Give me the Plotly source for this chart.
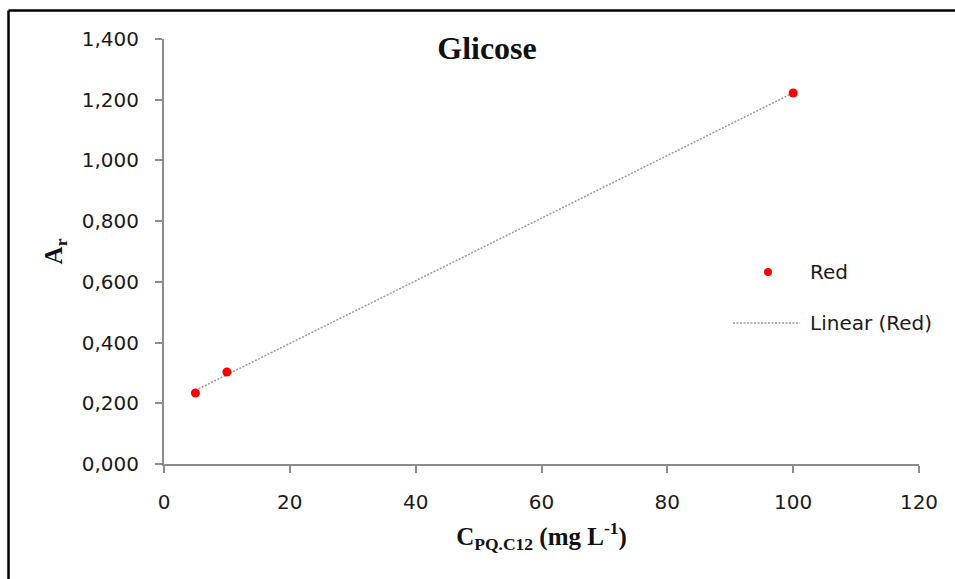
import numpy as np
import plotly.graph_objects as go

# ---- data ----
conc = [5, 10, 100]                 # C_PQ.C12 (mg L-1)
absorb = [0.234, 0.303, 1.222]      # A_r (Red)
series_name = "Red"
trend_name = "Linear (Red)"
x_ticks = [0, 20, 40, 60, 80, 100, 120]
y_ticks = [0.0, 0.2, 0.4, 0.6, 0.8, 1.0, 1.2, 1.4]

# linear trendline fitted to the data
slope, intercept = np.polyfit(conc, absorb, 1)
trend_x = [min(conc), max(conc)]
trend_y = [slope * v + intercept for v in trend_x]

W, H = 955, 579
L, R, T, B = 164, 36, 39, 115
pw, ph = W - L - R, H - T - B

def px(xp):
    return (xp - L) / pw

def py(yp):
    return (H - B - yp) / ph

fig = go.Figure()
fig.add_trace(go.Scatter(
    x=trend_x, y=trend_y, mode="lines", name=trend_name,
    line=dict(color="#9a9a9a", width=1.5, dash="2px,1.5px"),
    showlegend=False, hoverinfo="skip"))
fig.add_trace(go.Scatter(
    x=conc, y=absorb, mode="markers", name=series_name,
    marker=dict(color="#ff0000", size=9),
    showlegend=False))

tick_font = dict(family="DejaVu Sans", size=20, color="#1a1a1a")
serif_b = dict(family="Liberation Serif", size=25, color="#111111")

fig.update_layout(
    width=W, height=H,
    margin=dict(l=L, r=R, t=T, b=B, pad=0),
    paper_bgcolor="white", plot_bgcolor="white",
    separators=",.",
    title=dict(text="<b>Glicose</b>", x=px(487), xref="paper", xanchor="center",
               y=1 - 48 / H, yref="container", yanchor="middle",
               font=dict(family="Liberation Serif", size=32, color="#111111")),
    xaxis=dict(range=[0, 120], tickvals=x_ticks, showgrid=False, zeroline=False,
               showline=True, linecolor="#8c8c8c", linewidth=2,
               ticks="outside", ticklen=7, tickwidth=2, tickcolor="#8c8c8c",
               tickfont=tick_font, ticklabelstandoff=12,
               title=dict(text="<b>C<sub>PQ.C12</sub> (mg L<sup>-1</sup>)</b>",
                          font=serif_b, standoff=14)),
    yaxis=dict(range=[0, 1.4], tickvals=y_ticks, tickformat=".3f",
               showgrid=False, zeroline=False,
               showline=True, linecolor="#8c8c8c", linewidth=2,
               ticks="outside", ticklen=7, tickwidth=2, tickcolor="#8c8c8c",
               tickfont=tick_font, ticklabelstandoff=12,
               title=dict(text="<b>A<sub>r</sub></b>", font=serif_b, standoff=12)),
    showlegend=False,
)

# outer frame (left and top edges visible in the cropped reference)
fig.add_shape(type="line", xref="paper", yref="paper",
              x0=px(8.5), x1=px(W + 20), y0=py(10.5), y1=py(10.5),
              line=dict(color="black", width=2.5))
fig.add_shape(type="line", xref="paper", yref="paper",
              x0=px(8.5), x1=px(8.5), y0=py(10.5), y1=py(H + 20),
              line=dict(color="black", width=2.5))

# legend
fig.add_shape(type="circle", xref="paper", yref="paper",
              xsizemode="pixel", ysizemode="pixel",
              xanchor=px(768), yanchor=py(272), x0=-4, x1=4, y0=-4, y1=4,
              fillcolor="#ff0000", line=dict(width=0))
fig.add_shape(type="line", xref="paper", yref="paper",
              x0=px(733), x1=px(800), y0=py(323), y1=py(323),
              line=dict(color="#9a9a9a", width=1.5, dash="2px,1.5px"))
fig.add_annotation(x=px(808), y=py(272), xref="paper", yref="paper",
                   text=series_name, showarrow=False, xanchor="left",
                   yanchor="middle", font=tick_font)
fig.add_annotation(x=px(808), y=py(323), xref="paper", yref="paper",
                   text=trend_name, showarrow=False, xanchor="left",
                   yanchor="middle", font=tick_font)

fig.write_html("out.html")
